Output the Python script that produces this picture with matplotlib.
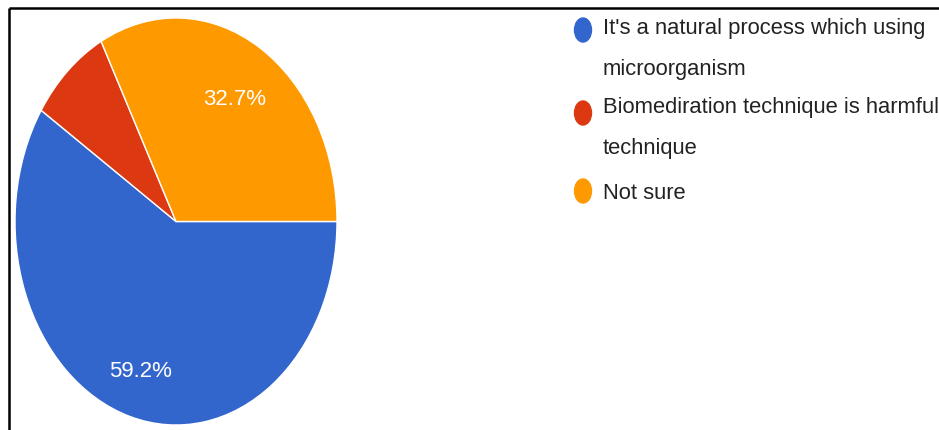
import numpy as np
import matplotlib.pyplot as plt
from matplotlib.patches import Ellipse

etiquetas = ["It's a natural process which using\nmicroorganism",
             "Biomediration technique is harmful\ntechnique",
             "Not sure"]
porcentajes = [59.2, 8.1, 32.7]
colores = ['#3366cc', '#dc3912', '#ff9900']

fuente = ['Liberation Sans', 'DejaVu Sans']
W, H = 939, 430
fig = plt.figure(figsize=(W / 100, H / 100), dpi=100)

# pastel ovalado: caja en pixeles de la figura
x0, x1, y0, y1 = 15, 337, 18, 425
ax = fig.add_axes([x0 / W, 1 - y1 / H, (x1 - x0) / W, (y1 - y0) / H])
wedges, textos, autotextos = ax.pie(
    porcentajes, colors=colores, startangle=0, counterclock=False,
    autopct=lambda p: '%.1f%%' % p if p > 10 else '', pctdistance=0.7,
    wedgeprops=dict(edgecolor='white', linewidth=1),
    textprops=dict(color='white', fontsize=16, family=fuente))
ax.set_aspect('auto')
ax.set_xlim(-1, 1)
ax.set_ylim(-1, 1)

# la etiqueta grande va un poco mas afuera
distancias = [0.77, 0.7, 0.7]
for w, t, d in zip(wedges, autotextos, distancias):
    ang = np.deg2rad((w.theta1 + w.theta2) / 2)
    t.set_position((d * np.cos(ang), d * np.sin(ang)))

# capa en pixeles para la leyenda y el marco
capa = fig.add_axes([0, 0, 1, 1])
capa.patch.set_alpha(0)
capa.set_xlim(0, W)
capa.set_ylim(H, 0)
capa.axis('off')

capa.plot([9, W], [8, 8], color='black', lw=1.8, solid_capstyle='butt')
capa.plot([9, 9], [8, H], color='black', lw=1.8, solid_capstyle='butt')

# leyenda: cada linea por separado, 42 px entre lineas
y_texto = [34, 113, 199]
y_punto = [30, 113, 191]
for etiqueta, color, yt, yp in zip(etiquetas, colores, y_texto, y_punto):
    capa.add_patch(Ellipse((583, yp), 17, 24, color=color))
    for i, linea in enumerate(etiqueta.split('\n')):
        capa.text(603, yt + 41 * i, linea, fontsize=15.8, color='#222222',
                  va='baseline', ha='left', family=fuente)

fig.savefig('out.png', dpi=100)
